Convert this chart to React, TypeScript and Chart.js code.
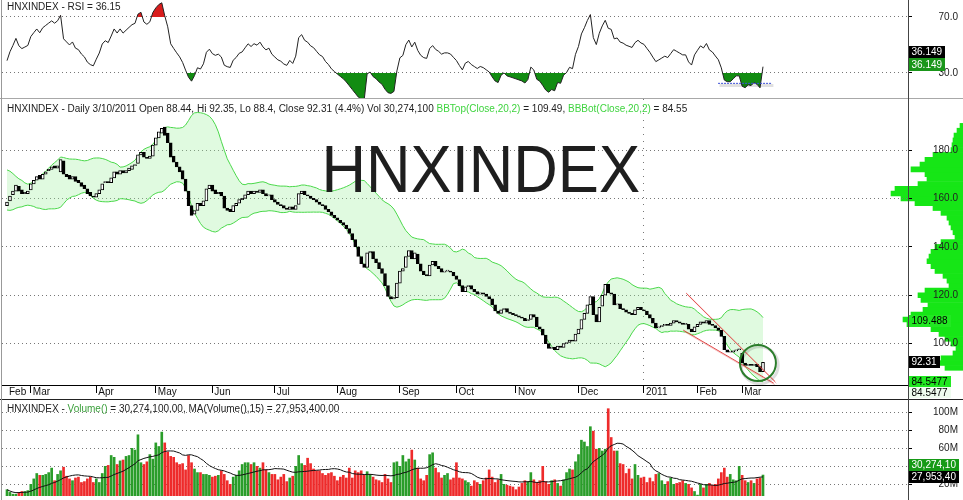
import React, { useEffect, useRef } from 'react';
import { Chart, registerables } from 'chart.js';

Chart.register(...registerables);

const FONT = 'Arial, "Liberation Sans", Helvetica, sans-serif';
Chart.defaults.font.family = FONT;
Chart.defaults.font.size = 10;
Chart.defaults.color = '#222';

// ---------------- data ----------------
const MONTH_TICKS = [0, 8, 30, 50, 69, 90, 111, 132, 151, 171, 192, 214, 232, 247];
const MONTH_LABELS = ['Feb', 'Mar', 'Apr', 'May', 'Jun', 'Jul', 'Aug', 'Sep', 'Oct', 'Nov', 'Dec', '2011', 'Feb', 'Mar'];

// closes before the first visible bar (January 2010), needed by the 20-day bands and RSI(14)
const WARMUP_CLOSES = [166, 168, 170, 171, 169, 167, 168, 166, 164, 165, 163, 161, 162, 160, 158, 160, 162, 161, 159, 157.5];

const OPENS = [
  157, 159, 161.5, 163, 165, 163.5, 162, 162,
  163.5, 166, 167.5, 169.5, 168, 170, 171.5, 172, 173.5, 172.5, 171, 175.5, 170, 169.5, 168, 169, 167.5, 166.5, 165.5, 164, 162.5, 161,
  160.5, 162, 163.5, 166.5, 167, 166.5, 168.5, 171, 170, 171.5, 170.5, 171.5, 172, 173.5, 174.5, 178, 179, 177, 176.5, 177.5,
  182, 185, 187, 189.5, 187, 183, 177.5, 175, 173, 171.5, 168, 163, 157, 153.5, 155, 158, 157, 159, 164,
  165.5, 163.5, 162, 162.5, 161, 156, 155.5, 154.5, 157, 158, 159.5, 160, 161.5, 163, 162, 163, 162.5, 163.5, 162, 161, 161.5,
  159.5, 158.5, 157.5, 157, 156, 155.5, 156.5, 155.5, 157.5, 162, 163, 161.5, 161, 160, 159.5, 158.5, 157.5, 157, 155.5, 154.5, 153,
  152, 151, 150, 149, 147.5, 145.5, 143, 140, 136, 133, 131.5, 137.5, 138, 135, 133.5, 131, 129, 124, 119.5, 118.5, 119,
  125, 130, 131.5, 136, 138.5, 135, 137, 133, 130, 128.5, 128, 132.5, 134, 132, 131, 129.5, 130, 130, 129.5,
  128, 126.5, 124, 121.5, 123.5, 124, 122.5, 121.5, 120.5, 121, 120.5, 119.5, 118.5, 116, 113.5, 112.5, 114, 114.5, 113, 112.5,
  112, 111.5, 111, 110.5, 109.5, 110, 112, 111, 107, 106, 103.5, 100, 98, 98.5, 97.5, 99, 98.5, 100, 100.5, 101.5, 101,
  104, 106, 110, 112.5, 116, 119.5, 112, 109, 115.5, 120, 124.5, 121, 120.5, 116, 116.5, 114.5, 114, 113, 112.5, 112, 114, 115,
  114, 113.5, 112, 110.5, 108.5, 106.5, 107, 107.5, 108, 107.5, 108.5, 109.5, 109, 108.5, 108, 108, 106, 105,
  107, 108, 109, 108.5, 109.5, 108, 107.5, 106.5, 105.5, 103, 97.5, 96.5, 96.5, 97, 97.5,
  96, 92, 91, 91.5, 91, 91.5, 90.5, 88.44,
];

const CLOSES = [
  158.5, 161, 163, 165.5, 163, 162, 162.5, 163,
  166, 167.5, 169, 168, 170, 171, 172, 173, 172.5, 173.5, 176, 170, 169, 168, 169, 167, 166.5, 165, 164, 162, 161, 160.5,
  162, 163.5, 166, 167, 166.5, 168.5, 171, 170, 171.5, 170.5, 171.5, 172.5, 173.5, 174, 178, 179, 177, 176.5, 177.5, 182,
  185, 187.5, 189, 186, 183, 177, 175, 173, 171, 168, 163, 157, 153, 155, 158, 157, 159, 164, 165.5,
  163, 162, 162.5, 161, 156, 155, 154.5, 157, 158, 159.5, 160, 161.5, 163, 162, 163, 162.5, 163.5, 162, 161, 161.5, 159.5,
  158.5, 157.5, 157, 156, 155.5, 156.5, 155.5, 157, 162, 163, 161.5, 161, 160, 159.5, 158.5, 157.5, 157, 155.5, 154.5, 153, 152,
  151, 150, 149, 147.5, 145.5, 143, 140, 136, 133, 131.5, 137.5, 138, 135, 133.5, 131, 129, 124, 119.5, 118.5, 119, 125,
  130, 131, 136, 138.5, 135, 137.5, 133, 130, 128.5, 128, 132.5, 134, 132, 131, 129.5, 130, 130, 129.5, 128,
  126.5, 124, 121.5, 123.5, 124, 122.5, 121.5, 120.5, 121, 120.5, 119.5, 118.5, 116, 113.5, 112.5, 114, 114.5, 113, 112.5, 112,
  111.5, 111, 110.5, 109.5, 110, 112, 111, 107, 106, 103.5, 100, 98, 98.5, 97.5, 99, 98.5, 100, 100.5, 101.5, 101, 104,
  106, 110, 112.5, 116, 119.5, 112, 109, 115, 120, 124.5, 121, 120.5, 116, 116.5, 114.5, 114, 113, 112.5, 112, 114, 115, 114,
  113.5, 112, 110.5, 108.5, 106.5, 107, 107.5, 108, 107.5, 108.5, 109.5, 109, 108.5, 108, 108, 106, 105, 107,
  108, 109, 108.5, 109.5, 108, 107.5, 106.5, 105.5, 103, 97.5, 96.5, 96.5, 97, 97.5, 97.5,
  92, 91, 91.5, 91, 91.5, 90.5, 88.42, 92.31,
];

// daily volume, millions of shares
const VOLUME_M = [
  14, 11, 9, 9, 11, 12, 12, 13, 20,
  26, 32, 30, 30, 31, 33, 38, 24, 31, 35, 39, 29,
  26, 24, 27, 28, 22, 23, 26, 28, 22, 26, 22,
  32, 40, 41, 52, 50, 42, 46, 47, 51, 52, 60, 58, 75,
  44, 42, 45, 53, 48, 66, 62, 78, 66, 56, 51,
  50, 44, 42, 43, 36, 52, 44, 37, 33, 33, 31, 31,
  30, 28, 29, 30, 35, 31, 24, 20, 28,
  30, 35, 42, 44, 44, 42, 44, 40, 38, 44, 36,
  33, 31, 31, 25, 28, 31, 23, 27, 29, 40, 52,
  43, 41, 49, 43, 37, 35, 35, 32, 30, 32, 33,
  29, 24, 28, 30, 27, 38, 27, 35, 33, 35, 30, 34,
  31, 28, 25, 24, 22, 31, 26, 22, 44, 45, 40,
  52, 45, 48, 58, 47, 38, 26, 24, 30, 53, 55,
  38, 33, 27, 30, 32, 25, 27, 44, 27, 26, 24, 22, 18, 24,
  22, 20, 24, 27, 36, 28, 22, 25, 31, 20, 19, 18, 17,
  14, 17, 21, 24, 23, 33, 25, 22, 24, 40, 23,
  20, 24, 25, 21, 18, 25, 33, 37,
  36, 45, 53, 69, 67, 62, 84, 79, 59, 60, 57, 59, 104, 72, 57, 57,
  43, 42, 32, 37, 26, 42, 30, 27, 28, 22,
  27, 23, 31, 32, 24, 20, 23, 27, 20, 21, 22,
  24, 21, 20, 16, 12, 8, 20, 16, 20, 21,
  19, 20, 26, 33, 38, 28, 31, 25, 24, 40, 30,
  24, 22, 24, 21, 26, 27, 30.2741,
];

const PRICE_TICKS = [100, 120, 140, 160, 180];
const RSI_TICKS = [30, 70];
const VOLUME_TICKS = [20, 40, 60, 80, 100];

// volume-by-price profile (price bin centre, relative volume)
const PROFILE_PRICES = [90, 92, 94, 96, 98, 100, 102, 104, 106, 108, 110, 112, 114, 116, 118, 120, 122, 124, 126, 128, 130, 132, 134, 136, 138, 140, 142, 144, 146, 148, 150, 152, 154, 156, 158, 160, 162, 164, 166, 168, 170, 172, 174, 176, 178, 180, 182, 184, 186, 188, 190];
const PROFILE_VOLUME = [18, 28, 22, 10, 7, 12, 18, 24, 32, 56, 60, 52, 40, 35, 42, 45, 38, 14, 16, 20, 28, 32, 36, 34, 32, 28, 22, 8, 10, 12, 14, 16, 22, 30, 48, 62, 72, 68, 45, 36, 38, 52, 43, 38, 30, 12, 11, 10, 9, 6, 3];

// hand-drawn annotations (bar index, value)
const TREND_UPPER = [{ x: 228.2, y: 120.9 }, { x: 258.1, y: 84.3 }];
const TREND_LOWER = [{ x: 227.2, y: 105.6 }, { x: 257.6, y: 83.7 }];
const FOCUS_CIRCLE = [{ x: 252.3, y: 92.0 }];
const RSI_SUPPORT = [{ x: 238.9, y: 22.6 }, { x: 257.0, y: 22.6 }];

// texts
const RSI_TITLE = 'HNXINDEX - RSI = 36.15';
const PRICE_TITLE: [string, string][] = [
  ['HNXINDEX - Daily 3/10/2011 Open 88.44, Hi 92.35, Lo 88.4, Close 92.31 (4.4%) Vol 30,274,100 ', '#222'],
  ['BBTop(Close,20,2)', '#3fd43f'],
  [' = 109.49, ', '#222'],
  ['BBBot(Close,20,2)', '#3fd43f'],
  [' = 84.55', '#222'],
];
const VOLUME_TITLE: [string, string][] = [
  ['HNXINDEX - ', '#222'],
  ['Volume()', '#3a9f3a'],
  [' = 30,274,100.00, MA(Volume(),15) = 27,953,400.00', '#222'],
];
const WATERMARK = 'HNXINDEX';
const RSI_LAST = 36.149;
const BB_TOP_LAST = 109.488;
const CLOSE_LAST = 92.31;
const BB_BOT_LAST = 84.5477;
const VOL_MA_LAST = 27.9534;

// ---------------- layout constants ----------------
const X_MIN = -1.68;
const X_MAX = 302.72;
const PRICE_MIN = 82.93;
const PRICE_MAX = 201.07;
const RSI_MIN = 12.14;
const RSI_MAX = 82.14;
const VOL_MIN = 7.0;
const VOL_MAX = 113.67;
const BOX_X = 909;

// ---------------- indicators ----------------
const FULL = [...WARMUP_CLOSES, ...CLOSES];
const W = WARMUP_CLOSES.length;

const BB_UP: number[] = [];
const BB_LO: number[] = [];
CLOSES.forEach((_, i) => {
  const win = FULL.slice(i + W - 19, i + W + 1);
  const m = win.reduce((a, b) => a + b, 0) / win.length;
  const sd = Math.sqrt(win.reduce((a, b) => a + (b - m) * (b - m), 0) / win.length);
  BB_UP.push(m + 2 * sd);
  BB_LO.push(m - 2 * sd);
});

function computeRSI(series: number[], period: number): number[] {
  const out: number[] = new Array(series.length).fill(NaN);
  let g = 0;
  let l = 0;
  for (let i = 1; i <= period; i++) {
    const d = series[i] - series[i - 1];
    if (d > 0) g += d;
    else l -= d;
  }
  g /= period;
  l /= period;
  out[period] = l === 0 ? 100 : 100 - 100 / (1 + g / l);
  for (let i = period + 1; i < series.length; i++) {
    const d = series[i] - series[i - 1];
    g = (g * (period - 1) + Math.max(d, 0)) / period;
    l = (l * (period - 1) + Math.max(-d, 0)) / period;
    out[i] = l === 0 ? 100 : 100 - 100 / (1 + g / l);
  }
  return out;
}
const RSI_FULL = computeRSI(FULL, 14);
const RSI = CLOSES.map((_, i) => RSI_FULL[i + W]);

const VOL_MA = VOLUME_M.map((_, i) => {
  const win = VOLUME_M.slice(Math.max(0, i - 14), i + 1);
  return win.reduce((a, b) => a + b, 0) / win.length;
});

const VOL_COLORS = CLOSES.map((c, i) => {
  const prev = i === 0 ? WARMUP_CLOSES[W - 1] : CLOSES[i - 1];
  return c >= prev ? '#2a9d2a' : '#ee2b2b';
});

// ---------------- helpers ----------------
function drawSegments(ctx: CanvasRenderingContext2D, x: number, y: number, segs: [string, string][]) {
  ctx.save();
  ctx.font = `10px ${FONT}`;
  ctx.textAlign = 'left';
  ctx.textBaseline = 'alphabetic';
  let cx = x;
  for (const [t, c] of segs) {
    ctx.fillStyle = c;
    ctx.fillText(t, cx, y);
    cx += ctx.measureText(t).width;
  }
  ctx.restore();
}

function drawBox(ctx: CanvasRenderingContext2D, yc: number, text: string, bg: string, fg: string, h = 12) {
  ctx.save();
  ctx.font = `10px ${FONT}`;
  const w = ctx.measureText(text).width + 5;
  const top = Math.round(yc - h / 2);
  ctx.fillStyle = bg;
  ctx.fillRect(BOX_X, top, Math.ceil(w), h);
  ctx.fillStyle = fg;
  ctx.textAlign = 'left';
  ctx.textBaseline = 'middle';
  ctx.fillText(text, BOX_X + 2.5, top + h / 2 + 0.5);
  ctx.restore();
}

const noInteraction = {
  legend: { display: false },
  tooltip: { enabled: false },
};

const zeroPad = (s: any) => {
  s.paddingTop = 0;
  s.paddingBottom = 0;
  s.paddingLeft = 0;
  s.paddingRight = 0;
};

function rightAxis(min: number, max: number, ticks: number[], fmt: (v: number) => string, pad: number, dash: number[]) {
  return {
    type: 'linear',
    position: 'right',
    min,
    max,
    afterBuildTicks: (s: any) => {
      s.ticks = ticks.map((v) => ({ value: v }));
    },
    afterFit: (s: any) => {
      s.width = 50;
      zeroPad(s);
    },
    ticks: {
      autoSkip: false,
      crossAlign: 'far',
      padding: pad,
      color: '#222',
      font: { size: 10, family: FONT },
      callback: (v: any) => fmt(Number(v)),
    },
    grid: { color: '#777', lineWidth: 1, tickColor: '#000', tickLength: 4, tickBorderDash: [] },
    border: { display: false, dash },
  };
}

// ---------------- component ----------------
export default function App() {
  const rsiRef = useRef<HTMLCanvasElement>(null);
  const profRef = useRef<HTMLCanvasElement>(null);
  const priceRef = useRef<HTMLCanvasElement>(null);
  const volRef = useRef<HTMLCanvasElement>(null);

  useEffect(() => {
    const charts: Chart[] = [];

    // ---------- RSI ----------
    const rsiData = RSI.map((v, i) => ({ x: i, y: v }));
    charts.push(
      new Chart(rsiRef.current as HTMLCanvasElement, {
        type: 'line',
        data: {
          datasets: [
            {
              data: RSI_SUPPORT,
              borderColor: '#3b4fd6',
              borderWidth: 1,
              borderDash: [2, 1],
              pointRadius: 0,
              order: -2,
            },
            {
              data: RSI_SUPPORT.map((p) => ({ x: p.x + 0.5, y: p.y - 1.6 })),
              borderColor: 'rgba(0,0,0,0.12)',
              borderWidth: 3,
              pointRadius: 0,
              order: -1,
            },
            {
              data: rsiData,
              borderColor: '#222',
              borderWidth: 1,
              pointRadius: 0,
              fill: { target: { value: 30 }, above: 'rgba(0,0,0,0)', below: '#128c12' },
              order: 0,
            },
            {
              data: rsiData,
              borderColor: 'rgba(0,0,0,0)',
              borderWidth: 0,
              pointRadius: 0,
              fill: { target: { value: 70 }, above: '#d81c1c', below: 'rgba(0,0,0,0)' },
              order: 1,
            },
          ],
        } as any,
        options: {
          responsive: false,
          animation: false,
          devicePixelRatio: 1,
          events: [],
          layout: { autoPadding: false, padding: { left: 2, right: 5, top: 0, bottom: 0 } },
          plugins: { ...noInteraction, filler: { drawTime: 'beforeDatasetsDraw' } },
          scales: {
            x: { type: 'linear', min: X_MIN, max: X_MAX, display: false, offset: false },
            y: rightAxis(RSI_MIN, RSI_MAX, RSI_TICKS, (v) => v.toFixed(1), 26.5, [1, 3]),
          },
        } as any,
        plugins: [
          {
            id: 'rsiText',
            afterDraw(chart: any) {
              const ctx = chart.ctx;
              drawSegments(ctx, 7, 10, [[RSI_TITLE, '#222']]);
              const y = chart.scales.y.getPixelForValue(RSI_LAST);
              drawBox(ctx, y - 12.5, RSI_LAST.toFixed(3), '#000', '#fff', 12);
              drawBox(ctx, y, RSI_LAST.toFixed(3), '#1a961a', '#fff', 13);
            },
          },
        ],
      })
    );

    // ---------- volume-by-price profile ----------
    charts.push(
      new Chart(profRef.current as HTMLCanvasElement, {
        type: 'bar',
        data: {
          datasets: [
            {
              data: PROFILE_PRICES.map((p, i) => ({ x: PROFILE_VOLUME[i], y: p })),
              backgroundColor: '#16e616',
              borderWidth: 0,
              barPercentage: 1,
              categoryPercentage: 1,
            },
          ],
        } as any,
        options: {
          indexAxis: 'y',
          responsive: false,
          animation: false,
          devicePixelRatio: 1,
          events: [],
          layout: { autoPadding: false, padding: 0 },
          plugins: noInteraction,
          scales: {
            x: { type: 'linear', min: 0, max: 100, reverse: true, display: false },
            y: { type: 'linear', min: PRICE_MIN, max: PRICE_MAX, display: false, offset: false },
          },
        } as any,
      })
    );

    // ---------- price ----------
    const candleData = CLOSES.map((c, i) => ({ x: i, y: [Math.min(OPENS[i], c), Math.max(OPENS[i], c)] }));
    const candleFill = CLOSES.map((c, i) => (c >= OPENS[i] ? '#ffffff' : '#000000'));
    charts.push(
      new Chart(priceRef.current as HTMLCanvasElement, {
        type: 'bar',
        data: {
          datasets: [
            {
              type: 'line',
              data: FOCUS_CIRCLE,
              showLine: false,
              pointRadius: 18,
              pointBorderWidth: 2,
              pointBorderColor: '#2b7d2b',
              pointBackgroundColor: 'rgba(0,0,0,0)',
              order: -6,
            },
            {
              type: 'line',
              data: FOCUS_CIRCLE.map((p) => ({ x: p.x + 0.6, y: p.y - 0.9 })),
              showLine: false,
              pointRadius: 18.5,
              pointBorderWidth: 3,
              pointBorderColor: 'rgba(0,0,0,0.13)',
              pointBackgroundColor: 'rgba(0,0,0,0)',
              order: -5,
            },
            {
              type: 'line',
              data: TREND_UPPER,
              borderColor: 'rgba(222,45,45,0.85)',
              borderWidth: 1,
              pointRadius: 0,
              order: -4,
            },
            {
              type: 'line',
              data: TREND_LOWER,
              borderColor: 'rgba(222,45,45,0.85)',
              borderWidth: 1,
              pointRadius: 0,
              order: -3,
            },
            {
              type: 'line',
              data: TREND_UPPER.map((p) => ({ x: p.x + 0.4, y: p.y - 0.7 })),
              borderColor: 'rgba(235,130,130,0.45)',
              borderWidth: 1,
              pointRadius: 0,
              order: -2,
            },
            {
              type: 'line',
              data: TREND_LOWER.map((p) => ({ x: p.x + 0.4, y: p.y - 0.7 })),
              borderColor: 'rgba(235,130,130,0.45)',
              borderWidth: 1,
              pointRadius: 0,
              order: -1,
            },
            {
              type: 'bar',
              data: candleData,
              backgroundColor: candleFill,
              borderColor: '#000',
              borderWidth: 1,
              borderSkipped: false,
              barThickness: 3,
              minBarLength: 1,
              order: 0,
            },
            {
              type: 'line',
              data: BB_UP.map((v, i) => ({ x: i, y: v })),
              borderColor: '#4ad84a',
              borderWidth: 1,
              pointRadius: 0,
              fill: '+1',
              backgroundColor: 'rgba(160,240,160,0.32)',
              order: 5,
            },
            {
              type: 'line',
              data: BB_LO.map((v, i) => ({ x: i, y: v })),
              borderColor: '#4ad84a',
              borderWidth: 1,
              pointRadius: 0,
              order: 6,
            },
          ],
        } as any,
        options: {
          responsive: false,
          animation: false,
          devicePixelRatio: 1,
          events: [],
          layout: { autoPadding: false, padding: { left: 2, right: 5, top: 0, bottom: 0 } },
          plugins: { ...noInteraction, filler: { drawTime: 'beforeDatasetsDraw' } },
          scales: {
            x: {
              type: 'linear',
              min: X_MIN,
              max: X_MAX,
              offset: false,
              afterBuildTicks: (s: any) => {
                s.ticks = MONTH_TICKS.map((v) => ({ value: v }));
              },
              afterFit: (s: any) => {
                s.height = 14;
                zeroPad(s);
              },
              ticks: {
                autoSkip: false,
                maxRotation: 0,
                minRotation: 0,
                align: 'start',
                labelOffset: 2,
                padding: -7,
                color: '#111',
                font: { size: 10, family: FONT },
                callback: (_v: any, i: number) => MONTH_LABELS[i] ?? '',
              },
              grid: {
                offset: false,
                color: (c: any) => (c.tick && c.tick.value === MONTH_TICKS[11] ? '#777' : 'rgba(0,0,0,0)'),
                tickColor: (c: any) => (c.index === 0 ? 'rgba(0,0,0,0)' : '#000'),
                tickLength: 8,
                tickBorderDash: [],
              },
              border: { display: true, color: '#000', dash: [1, 6] },
            },
            y: rightAxis(PRICE_MIN, PRICE_MAX, PRICE_TICKS, (v) => v.toFixed(1), 21, [1, 3]),
          },
        } as any,
        plugins: [
          {
            id: 'priceText',
            afterDatasetsDraw(chart: any) {
              const ctx = chart.ctx;
              ctx.save();
              ctx.font = `67px ${FONT}`;
              ctx.fillStyle = '#1e1e1e';
              ctx.textBaseline = 'alphabetic';
              ctx.textAlign = 'left';
              ctx.translate(321.5, 92.7);
              ctx.scale(0.92, 1);
              ctx.fillText(WATERMARK, 0, 0);
              ctx.restore();
            },
            afterDraw(chart: any) {
              const ctx = chart.ctx;
              drawSegments(ctx, 7, 13, PRICE_TITLE);
              const ys = chart.scales.y;
              drawBox(ctx, ys.getPixelForValue(BB_TOP_LAST), BB_TOP_LAST.toFixed(3), '#22e822', '#000', 12);
              drawBox(ctx, ys.getPixelForValue(CLOSE_LAST), CLOSE_LAST.toFixed(2), '#000', '#fff', 12);
              const yb = ys.getPixelForValue(BB_BOT_LAST);
              drawBox(ctx, yb, BB_BOT_LAST.toFixed(4), '#22e822', '#000', 11);
              drawBox(ctx, yb + 11.5, BB_BOT_LAST.toFixed(4), '#effcef', '#000', 11);
            },
          },
        ],
      })
    );

    // ---------- volume ----------
    charts.push(
      new Chart(volRef.current as HTMLCanvasElement, {
        type: 'bar',
        data: {
          datasets: [
            {
              type: 'line',
              data: VOL_MA.map((v, i) => ({ x: i, y: v })),
              borderColor: '#111',
              borderWidth: 1,
              pointRadius: 0,
              order: -1,
            },
            {
              type: 'bar',
              data: VOLUME_M.map((v, i) => ({ x: i, y: v })),
              backgroundColor: VOL_COLORS,
              borderWidth: 0,
              barThickness: 2,
              order: 0,
            },
          ],
        } as any,
        options: {
          responsive: false,
          animation: false,
          devicePixelRatio: 1,
          events: [],
          layout: { autoPadding: false, padding: { left: 2, right: 5, top: 0, bottom: 4 } },
          plugins: noInteraction,
          scales: {
            x: { type: 'linear', min: X_MIN, max: X_MAX, display: false, offset: false, grid: { offset: false } },
            y: { ...rightAxis(VOL_MIN, VOL_MAX, VOLUME_TICKS, (v) => `${v}M`, 21, [1, 3]), beginAtZero: false },
          },
        } as any,
        plugins: [
          {
            id: 'volText',
            afterDraw(chart: any) {
              const ctx = chart.ctx;
              drawSegments(ctx, 7, 12, VOLUME_TITLE);
              const y = chart.scales.y.getPixelForValue(VOL_MA_LAST);
              drawBox(ctx, y, '27,953,40', '#000', '#fff', 12);
              drawBox(ctx, y - 12.5, '30,274,10', '#169a16', '#fff', 12);
            },
          },
        ],
      })
    );

    return () => {
      charts.forEach((c) => c.destroy());
    };
  }, []);

  const abs = (l: number, t: number, w: number, h: number, bg?: string): React.CSSProperties => ({
    position: 'absolute',
    left: l,
    top: t,
    width: w,
    height: h,
    background: bg,
  });

  return (
    <div style={{ position: 'absolute', left: 0, top: 0, width: 963, height: 500, background: '#fff', overflow: 'hidden' }}>
      <canvas ref={rsiRef} width={963} height={98} style={abs(0, 0, 963, 98)} />
      <div style={abs(0, 98, 963, 1, '#a8a8a8')} />
      <canvas ref={profRef} width={100} height={286} style={abs(863, 99, 100, 286)} />
      <canvas ref={priceRef} width={963} height={300} style={abs(0, 99, 963, 300)} />
      <div style={abs(0, 399, 963, 1, '#222')} />
      <canvas ref={volRef} width={963} height={100} style={abs(0, 400, 963, 100)} />
      <div style={abs(908, 0, 1, 500, '#444')} />
      <div style={abs(1, 0, 1, 500, '#999')} />
    </div>
  );
}
